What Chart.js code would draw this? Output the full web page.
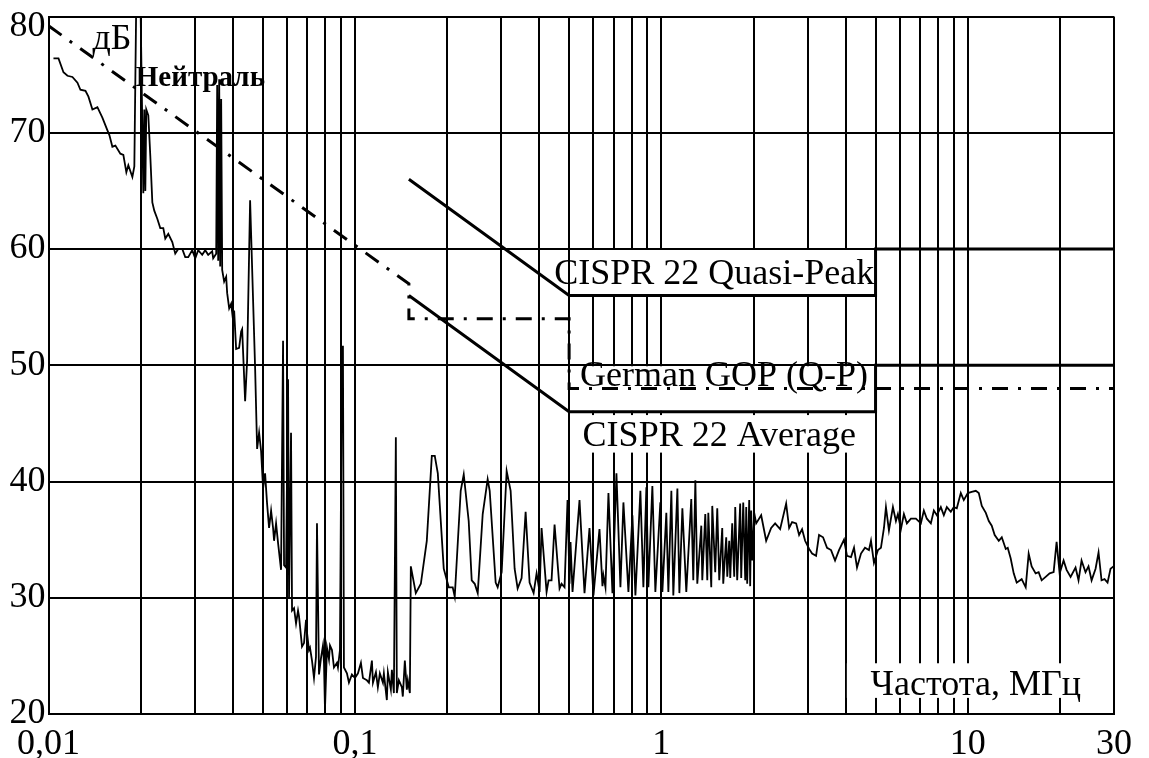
<!DOCTYPE html>
<html>
<head>
<meta charset="utf-8">
<script src="https://cdn.jsdelivr.net/npm/chart.js@4"></script>
<style>
  html, body { margin: 0; padding: 0; background: #fff; }
  #wrap { width: 1149px; height: 758px; }
</style>
</head>
<body>
<div id="wrap"><canvas id="spectrum" width="1149" height="758"></canvas></div>
<script>
// Кондуктивные помехи, нейтраль: частота (МГц) и уровень (дБ)
const freqMHz = [
  0.01038, 0.01078, 0.01119, 0.01153, 0.01197, 0.01243, 0.01271, 0.0132, 0.0135, 0.01391,
  0.01444, 0.01499, 0.01557, 0.0158, 0.01616, 0.01653, 0.01716, 0.01755, 0.01795, 0.01822,
  0.01878, 0.01906, 0.01935, 0.01994, 0.02039, 0.02054, 0.0207, 0.02085, 0.02117, 0.02149,
  0.02182, 0.02214, 0.02265, 0.02316, 0.02369, 0.02405, 0.0246, 0.02535, 0.02592, 0.02651,
  0.02732, 0.02794, 0.02858, 0.02945, 0.03012, 0.0308, 0.03174, 0.03246, 0.0332, 0.03421,
  0.03447, 0.03526, 0.03552, 0.03579, 0.03606, 0.03633, 0.0366, 0.03688, 0.03743, 0.038,
  0.03829, 0.03887, 0.03945, 0.04005, 0.04035, 0.04096, 0.04189, 0.04253, 0.04285, 0.04382,
  0.04448, 0.04549, 0.04723, 0.04795, 0.04867, 0.04941, 0.05015, 0.05091, 0.05168, 0.05246,
  0.05326, 0.05406, 0.05447, 0.05529, 0.05613, 0.0574, 0.05827, 0.05871, 0.0596, 0.0605,
  0.06095, 0.06187, 0.06234, 0.06328, 0.06424, 0.06521, 0.0657, 0.06719, 0.06821, 0.06924,
  0.06976, 0.07081, 0.07135, 0.07243, 0.07352, 0.07463, 0.07519, 0.07633, 0.07749, 0.07866,
  0.07925, 0.07984, 0.08105, 0.08228, 0.0829, 0.08415, 0.08542, 0.08736, 0.08802, 0.08935,
  0.09071, 0.09139, 0.09207, 0.09417, 0.09559, 0.09777, 0.1, 0.1023, 0.1046, 0.1062,
  0.1094, 0.1111, 0.1136, 0.1145, 0.1171, 0.1188, 0.1206, 0.1234, 0.1243, 0.1271,
  0.1281, 0.131, 0.132, 0.134, 0.136, 0.137, 0.1391, 0.1423, 0.1433, 0.1455,
  0.1477, 0.1488, 0.1511, 0.1522, 0.158, 0.1641, 0.1716, 0.1782, 0.1822, 0.1864,
  0.1949, 0.2024, 0.2085, 0.2117, 0.2214, 0.2265, 0.2351, 0.2405, 0.246, 0.2516,
  0.2612, 0.2711, 0.2753, 0.2879, 0.2923, 0.3012, 0.3127, 0.3222, 0.332, 0.3396,
  0.3499, 0.3606, 0.3715, 0.3829, 0.3916, 0.3945, 0.4005, 0.4065, 0.4221, 0.4285,
  0.4382, 0.4482, 0.4653, 0.4723, 0.4831, 0.4941, 0.5015, 0.5053, 0.513, 0.5406,
  0.5613, 0.5827, 0.6004, 0.6281, 0.6424, 0.6472, 0.657, 0.6719, 0.6924, 0.7135,
  0.7352, 0.7519, 0.7807, 0.8045, 0.8228, 0.8542, 0.8736, 0.8935, 0.9071, 0.9346,
  0.9559, 0.9924, 1.0075, 1.038, 1.054, 1.078, 1.094, 1.128, 1.145, 1.171,
  1.206, 1.252, 1.271, 1.291, 1.31, 1.35, 1.36, 1.391, 1.412, 1.423,
  1.455, 1.466, 1.499, 1.522, 1.545, 1.58, 1.592, 1.628, 1.641, 1.665,
  1.678, 1.703, 1.729, 1.742, 1.768, 1.808, 1.822, 1.85, 1.878, 1.892,
  1.906, 1.935, 1.949, 1.964, 1.979, 2.009, 2.039, 2.117, 2.198, 2.282,
  2.351, 2.441, 2.554, 2.612, 2.671, 2.753, 2.815, 2.879, 2.945, 3.035,
  3.104, 3.198, 3.27, 3.37, 3.473, 3.579, 3.688, 3.8, 3.945, 4.035,
  4.158, 4.253, 4.35, 4.482, 4.618, 4.758, 4.831, 4.941, 5.091, 5.207,
  5.326, 5.406, 5.529, 5.697, 5.827, 5.915, 6.05, 6.187, 6.328, 6.521,
  6.77, 7.029, 7.188, 7.352, 7.576, 7.749, 7.925, 8.166, 8.352, 8.542,
  8.802, 9.003, 9.207, 9.488, 9.704, 10.0, 10.3, 10.62, 10.86, 11.11,
  11.45, 11.71, 11.97, 12.24, 12.62, 12.91, 13.3, 13.5, 13.8, 14.12,
  14.44, 14.99, 15.45, 15.8, 16.16, 16.65, 17.03, 17.42, 17.95, 18.5,
  19.06, 19.49, 19.94, 20.54, 21.01, 21.65, 22.47, 22.98, 23.51, 24.22,
  24.77, 25.35, 26.12, 26.71, 27.32, 27.94, 28.58, 29.23, 29.89
];
const levelDb = [
  76.4, 76.4, 75.2, 74.9, 74.8, 74.3, 73.7, 73.6, 73.1, 72.0,
  72.2, 71.3, 70.2, 69.8, 68.8, 68.9, 68.2, 68.1, 66.6, 67.2,
  66.2, 67.1, 82, 82, 64.8, 72, 65, 72, 71.5, 68,
  64, 63.3, 62.6, 61.8, 61.8, 60.9, 61.3, 60.6, 59.6, 60.0,
  60.0, 59.3, 59.3, 59.9, 59.2, 59.9, 59.5, 59.9, 59.5, 59.8,
  59.2, 59.6, 74.1, 59.0, 74.6, 58.5, 72.9, 58.2, 57.2, 57.6,
  56.2, 54.9, 55.3, 53.8, 54.7, 51.4, 51.5, 52.9, 53.1, 46.9,
  50.4, 64.2, 49.8, 42.8, 44.2, 42.6, 39.4, 40.7, 38.1, 36.0,
  37.5, 36.0, 34.9, 36.4, 34.7, 32.4, 52.1, 32.8, 32.6, 48.8,
  30.0, 44.2, 28.9, 29.1, 27.8, 28.9, 28.4, 25.8, 26.1, 28.1,
  27.0, 25.5, 25.7, 24.6, 23.1, 24.9, 36.4, 23.4, 24.8, 25.9,
  24.4, 20.4, 25.7, 24.7, 25.9, 25.5, 24.0, 24.4, 24.0, 25.5,
  51.6, 51.6, 24.0, 23.5, 22.7, 23.4, 23.1, 23.5, 24.4, 23.1,
  22.9, 22.7, 24.6, 22.7, 23.6, 22.3, 23.5, 22.7, 23.5, 21.2,
  23.6, 22.1, 23.8, 21.8, 43.8, 21.8, 22.9, 22.3, 21.5, 24.6,
  22.1, 22.9, 21.8, 32.7, 30.4, 31.2, 34.9, 42.2, 42.2, 40.7,
  32.5, 30.9, 30.9, 30.1, 39.2, 40.6, 36.6, 31.5, 31.2, 30.4,
  37.2, 40.2, 39.2, 31.3, 30.9, 32.2, 40.9, 39.2, 32.5, 30.8,
  31.7, 37.4, 31.3, 30.4, 32.1, 31.6, 30.5, 36.0, 30.5, 31.5,
  31.5, 36.3, 30.8, 31.2, 30.9, 38.4, 31.2, 34.8, 30.5, 38.4,
  30.4, 36.0, 30.2, 35.9, 31.0, 31.9, 30.9, 39.0, 30.4, 40.7,
  30.9, 38.2, 30.5, 37.1, 30.2, 39.2, 30.9, 39.5, 30.9, 39.6,
  30.5, 38.2, 30.5, 37.3, 30.5, 39.2, 30.2, 39.4, 30.4, 37.7,
  30.5, 38.5, 31.5, 40.1, 31.2, 36.2, 31.5, 37.2, 31.5, 37.3,
  30.9, 37.9, 32.2, 37.7, 31.5, 36.0, 31.2, 35.2, 31.8, 34.9,
  31.7, 36.4, 31.8, 37.8, 31.5, 38.1, 31.7, 38.2, 31.5, 37.8,
  31.2, 38.4, 31.0, 37.5, 33.2, 37.3, 36.4, 37.1, 34.9, 36.0,
  36.4, 35.9, 38.1, 36.0, 36.5, 36.4, 35.4, 35.9, 34.9, 34.2,
  33.8, 33.6, 35.4, 35.2, 34.3, 34.1, 33.2, 34.1, 35.0, 33.6,
  33.5, 34.3, 32.6, 33.8, 34.3, 34.1, 34.9, 33.0, 34.1, 34.3,
  36.0, 37.8, 35.8, 37.8, 36.6, 37.2, 35.9, 37.2, 36.4, 36.8,
  36.8, 36.4, 37.5, 36.8, 36.4, 37.5, 37.1, 37.8, 37.1, 37.8,
  37.4, 37.8, 37.7, 39.0, 38.4, 39.0, 39.1, 39.2, 39.0, 37.9,
  37.3, 36.6, 36.2, 35.4, 34.9, 35.2, 34.2, 34.3, 33.4, 32.1,
  31.3, 31.6, 30.9, 33.8, 32.7, 32.1, 32.2, 31.5, 31.8, 32.1,
  32.2, 34.8, 32.1, 33.2, 32.4, 31.8, 32.6, 31.5, 33.2, 32.2,
  32.7, 31.5, 32.5, 33.9, 31.5, 31.6, 31.3, 32.5, 32.7
];

// Нормы: CISPR 22 квазипик, CISPR 22 среднее, German GOP (Q-P)
const qpFreq = [0.15, 0.5, 5, 5, 30];
const qpDb = [66, 56, 56, 60, 60];
const avgFreq = [0.15, 0.5, 5, 5, 30];
const avgDb = [56, 46, 46, 50, 50];
const gopFreq = [0.01, 0.15, 0.15, 0.5, 0.5, 30];
const gopDb = [79.2, 57, 54, 54, 48, 48];

// сетка по частоте и подписи оси
const gridFreqs = [
  0.01, 0.02, 0.03, 0.04, 0.05, 0.06, 0.07, 0.08, 0.09,
  0.1, 0.2, 0.3, 0.4, 0.5, 0.6, 0.7, 0.8, 0.9,
  1, 2, 3, 4, 5, 6, 7, 8, 9,
  10, 20, 30
];
const freqTickText = { 0.01: '0,01', 0.1: '0,1', 1: '1', 10: '10', 30: '30' };
const levelTicks = [20, 30, 40, 50, 60, 70, 80];

const SERIF = '"Liberation Serif", "Times New Roman", serif';

const toPoints = (xs, ys) => xs.map((x, i) => ({ x: x, y: ys[i] }));

// подписи на поле графика; white = подложка [f1, f2, дБ верх, дБ низ]
const notes = [
  { text: 'Нейтраль', f: 0.0313, db: 74.0, align: 'center', font: 'bold 29px ' + SERIF },
  { text: 'дБ', f: 0.0161, db: 77.2, align: 'center', font: '36px ' + SERIF },
  { text: 'CISPR 22 Quasi-Peak', f: 4.95, db: 56.95, align: 'right', font: '36px ' + SERIF,
    white: [0.5, 5, 60, 56] },
  { text: 'German GOP (Q-P)', f: 1.6, db: 48.2, align: 'center', font: '36px ' + SERIF,
    white: [0.5, 5, 50, 46] },
  { text: 'CISPR 22 Average', f: 1.545, db: 43.07, align: 'center', font: '36px ' + SERIF,
    white: [0.51, 5.0, 45.8, 42.4] },
  { text: 'Частота, МГц', f: 10.62, db: 21.65, align: 'center', font: '36px ' + SERIF,
    white: [4.0, 24.5, 24.45, 21.3] }
];

const notesPlugin = {
  id: 'notes',
  beforeDraw(chart) {
    const c = chart.ctx;
    c.save();
    c.fillStyle = '#fff';
    c.fillRect(0, 0, chart.width, chart.height);
    c.restore();
  },
  beforeDatasetsDraw(chart) {
    const c = chart.ctx, sx = chart.scales.x, sy = chart.scales.y;
    c.save();
    c.fillStyle = '#fff';
    notes.forEach(n => {
      if (!n.white) return;
      const x0 = sx.getPixelForValue(n.white[0]) + 1;
      const x1 = sx.getPixelForValue(n.white[1]) - 1;
      const y0 = sy.getPixelForValue(n.white[2]) + 1;
      const y1 = sy.getPixelForValue(n.white[3]) - 1;
      c.fillRect(x0, y0, x1 - x0, y1 - y0);
    });
    c.restore();
  },
  afterDatasetsDraw(chart) {
    const c = chart.ctx, sx = chart.scales.x, sy = chart.scales.y;
    c.save();
    c.fillStyle = '#000';
    c.textBaseline = 'alphabetic';
    notes.forEach(n => {
      c.font = n.font;
      c.textAlign = n.align;
      c.fillText(n.text, sx.getPixelForValue(n.f), sy.getPixelForValue(n.db));
    });
    // верхняя метка шкалы уровня стоит ниже своей линии сетки
    c.font = '36px ' + SERIF;
    c.textAlign = 'right';
    c.fillText(String(levelTicks[levelTicks.length - 1]), sy.right - 3, sy.top + 19);
    c.restore();
  }
};

const gridStyle = { color: '#000', lineWidth: 2, drawTicks: false };
const tickFont = { family: SERIF, size: 36, lineHeight: 0.75 };

new Chart(document.getElementById('spectrum'), {
  type: 'scatter',
  data: {
    datasets: [
      {
        label: 'Нейтраль',
        data: toPoints(freqMHz, levelDb),
        showLine: true, borderColor: '#000', borderWidth: 1.8,
        pointRadius: 0, tension: 0
      },
      {
        label: 'CISPR 22 Quasi-Peak',
        data: toPoints(qpFreq, qpDb),
        showLine: true, borderColor: '#000', borderWidth: 3, pointRadius: 0
      },
      {
        label: 'CISPR 22 Average',
        data: toPoints(avgFreq, avgDb),
        showLine: true, borderColor: '#000', borderWidth: 3, pointRadius: 0
      },
      {
        label: 'German GOP (Q-P)',
        data: toPoints(gopFreq, gopDb),
        showLine: true, borderColor: '#000', borderWidth: 3, pointRadius: 0,
        borderDash: [16, 10, 3, 10]
      }
    ]
  },
  options: {
    responsive: false,
    animation: false,
    layout: { padding: { top: 14, right: 34, bottom: 0, left: 0 } },
    plugins: {
      legend: { display: false },
      tooltip: { enabled: false }
    },
    scales: {
      x: {
        type: 'logarithmic',
        min: 0.01,
        max: 30,
        afterBuildTicks: s => { s.ticks = gridFreqs.map(v => ({ value: v })); },
        afterFit: s => { s.height = 44; },
        grid: gridStyle,
        border: { color: '#000', width: 2 },
        ticks: {
          autoSkip: false, maxRotation: 0, minRotation: 0, padding: 17,
          color: '#000', font: tickFont,
          callback: v => freqTickText[v] || ''
        }
      },
      y: {
        min: levelTicks[0],
        max: levelTicks[levelTicks.length - 1],
        afterBuildTicks: s => { s.ticks = levelTicks.map(v => ({ value: v })); },
        afterFit: s => { s.width = 48; },
        grid: gridStyle,
        border: { color: '#000', width: 2 },
        ticks: {
          padding: 3, color: '#000', font: tickFont,
          callback: v => (v === levelTicks[levelTicks.length - 1] ? '' : String(v))
        }
      }
    }
  },
  plugins: [notesPlugin]
});
</script>
</body>
</html>
